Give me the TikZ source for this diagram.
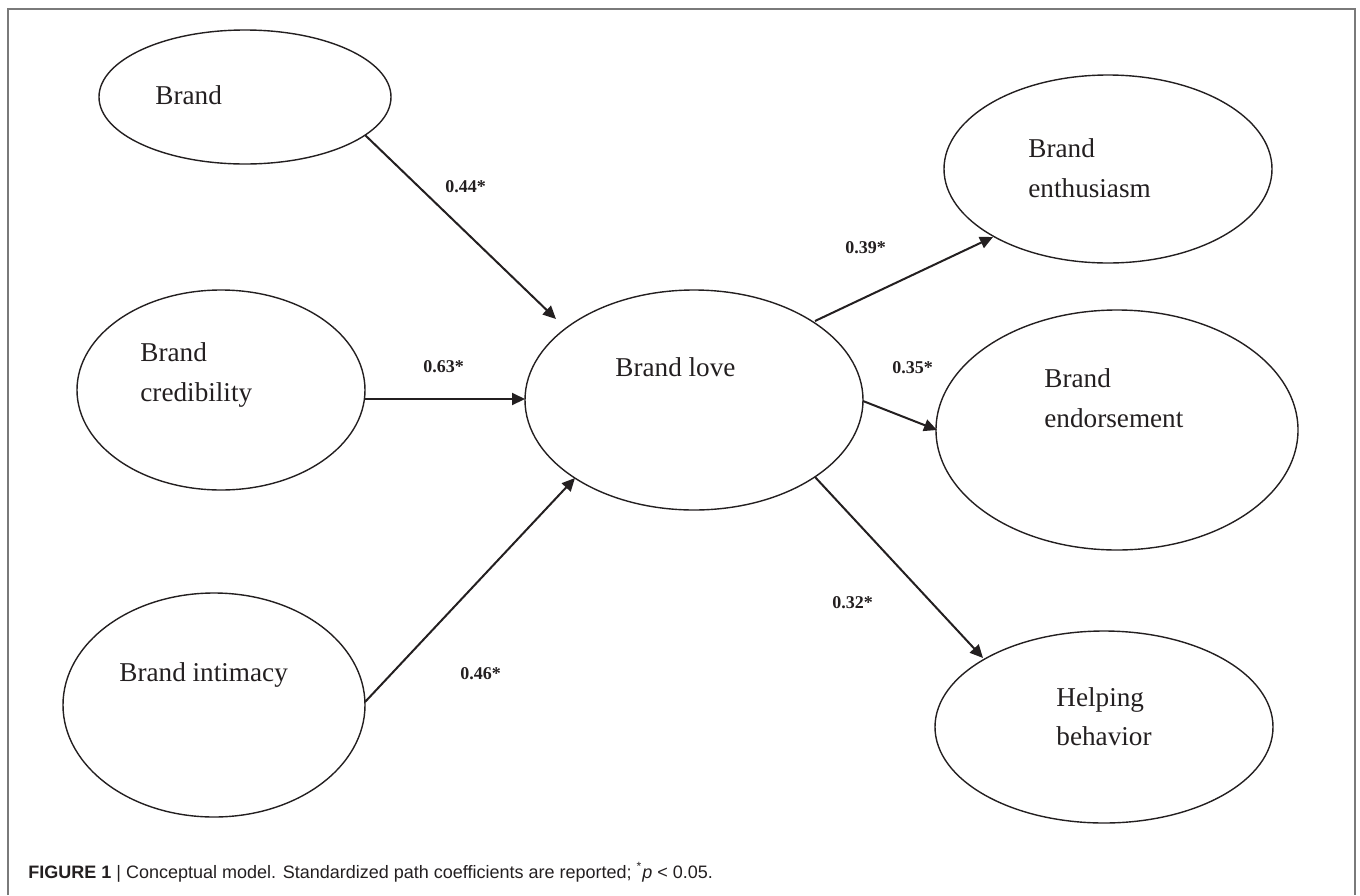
\documentclass[tikz,border=0pt]{standalone}
\usepackage{fontspec}
\setmainfont{Liberation Serif}
\newfontfamily\capfont{Liberation Sans}
\usetikzlibrary{shapes.geometric,arrows.meta,calc}
\definecolor{ink}{HTML}{231F20}
\definecolor{framegray}{HTML}{7A7A7A}
\tikzset{
  ell/.style 2 args={ellipse, draw=ink, line width=0.7pt, inner sep=0pt,
    minimum width=#1pt, minimum height=#2pt},
  lbl/.style={anchor=base west, inner sep=0pt, text=ink,
    font=\fontsize{13.6}{20}\selectfont},
  coef/.style={anchor=base west, inner sep=0pt, text=ink,
    font=\fontsize{9}{11}\selectfont\bfseries},
  arr/.style={draw=ink, line width=1pt, -{Triangle[length=6.5pt,width=6pt]}},
}
\begin{document}
\begin{tikzpicture}[x=0.5pt,y=-0.5pt]
\useasboundingbox (0,0) rectangle (1360,895);
\draw[framegray, line width=1pt] (8,895) -- (8,9) -- (1355,9) -- (1355,895);

% ellipses (center, rx, ry in px)
\node[ell={146}{67}]  (brand) at (245,97) {};
\node[ell={144}{100}] (cred)  at (221,390) {};
\node[ell={151}{112}] (intim) at (214,705) {};
\node[ell={169}{110}] (love)  at (694,400) {};
\node[ell={164}{94}]  (enth)  at (1108,169) {};
\node[ell={181}{120}] (endo)  at (1117,430) {};
\node[ell={169}{96}]  (help)  at (1104,727) {};

% texts
\node[lbl] (t1)  at (155,104) {Brand};
\node[lbl] (t2a) at (140,361) {Brand};
\node[lbl] (t2b) at (140,401) {credibility};
\node[lbl] (t3)  at (119,681) {Brand intimacy};
\node[lbl] (t4)  at (615,376) {Brand love};
\node[lbl] (t5a) at (1028,157) {Brand};
\node[lbl] (t5b) at (1028,197) {enthusiasm};
\node[lbl] (t6a) at (1044,387) {Brand};
\node[lbl] (t6b) at (1044,427) {endorsement};
\node[lbl] (t7a) at (1056,706) {Helping};
\node[lbl] (t7b) at (1056,745) {behavior};

% connectors
\draw[arr] ($(brand.center)+(120,38)$) -- ($(love.center)+(-138,-81)$);
\draw[arr] ($(cred.center)+(144,9)$) -- ($(love.center)+(-169,-1)$);
\draw[arr] ($(intim.center)+(151,-3)$) -- ($(love.center)+(-119,78)$);
\draw[arr] ($(love.center)+(121,-79)$) -- ($(enth.center)+(-115,68)$);
\draw[arr] ($(love.center)+(169,1)$) -- ($(endo.center)+(-180,0)$);
\draw[arr] ($(love.center)+(121,77)$) -- ($(help.center)+(-121,-69)$);

% coefficients
\node[coef] (c1) at (445,192) {0.44*};
\node[coef] (c2) at (423,372) {0.63*};
\node[coef] (c3) at (460,679) {0.46*};
\node[coef] (c4) at (845,253) {0.39*};
\node[coef] (c5) at (892,373) {0.35*};
\node[coef] (c6) at (832,608) {0.32*};

% caption
\node[anchor=base west, inner sep=0pt, text=ink, font=\capfont\fontsize{9}{11}\selectfont]
  (cap) at (28,878) {\textbf{FIGURE 1} | Conceptual model. Standardized path coefficients are reported; \textsuperscript{*}\textit{p} < 0.05.};
\end{tikzpicture}
\end{document}
